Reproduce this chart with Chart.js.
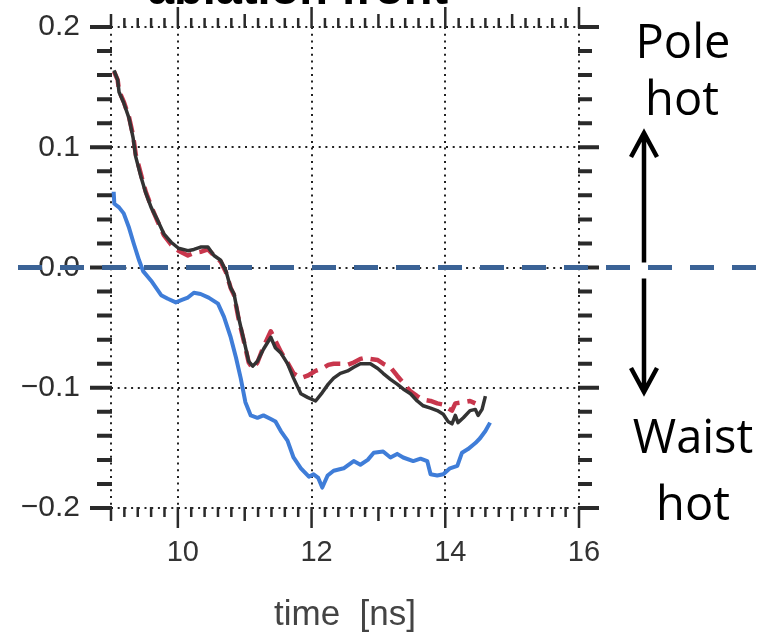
<!DOCTYPE html>
<html>
<head>
<meta charset="utf-8">
<script src="https://cdn.jsdelivr.net/npm/chart.js@4.4.1/dist/chart.umd.min.js"></script>
<style>
  html, body { margin: 0; padding: 0; background: #fff; }
  #wrap { width: 769px; height: 632px; position: relative; }
</style>
</head>
<body>
<div id="wrap"><canvas id="chart"></canvas></div>
<script>
// Valeurs (temps en ns)
const tBlack = [9.045, 9.10, 9.12, 9.19, 9.27, 9.33, 9.37, 9.45, 9.52, 9.60,
  9.70, 9.79, 9.90, 10.01, 10.15, 10.24, 10.34, 10.45, 10.54, 10.64,
  10.72, 10.79, 10.84, 10.91, 10.99, 11.06, 11.12, 11.19, 11.28, 11.39,
  11.46, 11.54, 11.64, 11.73, 11.84, 11.94, 12.06, 12.16, 12.25, 12.33,
  12.43, 12.54, 12.63, 12.73, 12.81, 12.88, 12.99, 13.07, 13.18, 13.28,
  13.37, 13.48, 13.58, 13.67, 13.78, 13.88, 13.97, 14.04, 14.10, 14.15,
  14.19, 14.27, 14.37, 14.45, 14.49, 14.55, 14.60]
const vBlack = [0.164, 0.156, 0.146, 0.137, 0.124, 0.108, 0.092, 0.075, 0.062, 0.050,
  0.039, 0.028, 0.021, 0.016, 0.014, 0.015, 0.017, 0.017, 0.010, 0.006,
  -0.003, -0.017, -0.022, -0.042, -0.061, -0.078, -0.082, -0.078, -0.068, -0.058,
  -0.067, -0.071, -0.080, -0.092, -0.105, -0.108, -0.111, -0.104, -0.097, -0.092,
  -0.088, -0.086, -0.083, -0.080, -0.080, -0.080, -0.084, -0.088, -0.093, -0.097,
  -0.101, -0.105, -0.111, -0.115, -0.117, -0.119, -0.122, -0.128, -0.130, -0.123,
  -0.129, -0.125, -0.119, -0.118, -0.123, -0.118, -0.107]

const tRed = [9.045, 9.10, 9.12, 9.19, 9.27, 9.33, 9.37, 9.45, 9.52, 9.60,
  9.70, 9.79, 9.90, 10.01, 10.15, 10.24, 10.34, 10.45, 10.54, 10.64,
  10.72, 10.79, 10.84, 10.91, 10.99, 11.06, 11.12, 11.19, 11.28, 11.39,
  11.46, 11.54, 11.64, 11.73, 11.84, 11.94, 12.06, 12.16, 12.25, 12.33,
  12.43, 12.54, 12.63, 12.73, 12.81, 12.88, 12.99, 13.07, 13.18, 13.28,
  13.37, 13.48, 13.58, 13.67, 13.78, 13.88, 13.97, 14.04, 14.10, 14.15,
  14.27, 14.37, 14.45]
const vRed = [0.163, 0.156, 0.147, 0.138, 0.125, 0.110, 0.094, 0.077, 0.063, 0.051,
  0.038, 0.027, 0.019, 0.014, 0.010, 0.012, 0.013, 0.015, 0.010, 0.005,
  -0.004, -0.017, -0.023, -0.043, -0.062, -0.079, -0.084, -0.079, -0.066, -0.053,
  -0.061, -0.070, -0.079, -0.088, -0.092, -0.090, -0.086, -0.084, -0.081, -0.080,
  -0.080, -0.081, -0.079, -0.076, -0.075, -0.076, -0.077, -0.080, -0.083, -0.090,
  -0.096, -0.103, -0.107, -0.110, -0.111, -0.113, -0.114, -0.117, -0.119, -0.113,
  -0.112, -0.111, -0.113]

const tBlue = [9.04, 9.05, 9.12, 9.19, 9.27, 9.34, 9.42, 9.48, 9.60, 9.75,
  9.85, 9.97, 10.06, 10.15, 10.24, 10.34, 10.46, 10.60, 10.69, 10.79,
  10.87, 10.94, 11.01, 11.09, 11.19, 11.28, 11.39, 11.46, 11.54, 11.64,
  11.73, 11.84, 11.96, 12.03, 12.10, 12.16, 12.24, 12.33, 12.48, 12.63,
  12.73, 12.84, 12.93, 13.07, 13.18, 13.28, 13.37, 13.52, 13.63, 13.73,
  13.78, 13.88, 13.97, 14.07, 14.18, 14.25, 14.34, 14.45, 14.52, 14.60, 14.67]
const vBlue = [0.063, 0.053, 0.050, 0.045, 0.033, 0.020, 0.006, -0.003, -0.011, -0.023,
  -0.026, -0.029, -0.027, -0.025, -0.021, -0.022, -0.025, -0.030, -0.041, -0.058,
  -0.075, -0.092, -0.112, -0.123, -0.125, -0.123, -0.126, -0.128, -0.136, -0.144,
  -0.158, -0.167, -0.174, -0.172, -0.175, -0.183, -0.173, -0.169, -0.167, -0.161,
  -0.164, -0.160, -0.154, -0.153, -0.158, -0.155, -0.158, -0.161, -0.159, -0.161,
  -0.172, -0.173, -0.172, -0.167, -0.165, -0.154, -0.151, -0.146, -0.142, -0.136, -0.129]

const xTickValues = [9, 10, 12, 14, 16]
const xTickLabels = ['', '10', '12', '14', '16']
const yTickValues = [-0.2, -0.1, 0, 0.1, 0.2]
const yTickLabels = ['\u22120.2', '\u22120.1', '0.0', '0.1', '0.2']

const FONT = '"Liberation Sans", Arial, sans-serif'
const NOTE_FONT = '"Open Sans", sans-serif'

function toPoints(ts, vs) {
  return ts.map((t, i) => ({ x: t, y: vs[i] }))
}

// Petites graduations sur les quatre côtés du cadre
const frameTicks = {
  id: 'frameTicks',
  beforeDatasetsDraw(chart) {
    const { ctx, chartArea: a, scales: { x, y } } = chart
    ctx.save()
    ctx.strokeStyle = '#2a2a2a'
    ctx.lineWidth = 4
    for (let i = -10; i <= 10; i++) {
      const py = y.getPixelForValue(i / 50)
      const major = i % 5 === 0
      ctx.beginPath()
      ctx.moveTo(a.left - (major ? 21 : 14), py)
      ctx.lineTo(a.left + 1, py)
      ctx.moveTo(a.right - 1, py)
      ctx.lineTo(a.right + (major ? 20 : 13), py)
      ctx.stroke()
    }
    ctx.lineWidth = 2.5
    for (let i = 45; i <= 80; i++) {
      const px = x.getPixelForValue(i / 5)
      let len = 9
      if (i % 10 === 0) len = 20
      else if (i % 5 === 0) len = 13
      ctx.beginPath()
      ctx.moveTo(px, a.bottom - 1)
      ctx.lineTo(px, a.bottom + len)
      ctx.moveTo(px, a.top + 1)
      ctx.lineTo(px, a.top - len)
      ctx.stroke()
    }
    ctx.restore()
  }
}

// Ligne de référence à zéro, flèches et textes de la droite
const notes = {
  id: 'notes',
  afterDraw(chart) {
    const { ctx, scales: { y } } = chart
    ctx.save()
    const y0 = y.getPixelForValue(0)
    ctx.strokeStyle = '#3B6396'
    ctx.lineWidth = 5
    ctx.setLineDash([24, 18])
    ctx.beginPath()
    ctx.moveTo(18, y0)
    ctx.lineTo(756, y0)
    ctx.stroke()
    ctx.setLineDash([])

    ctx.strokeStyle = '#000'
    ctx.lineWidth = 4.5
    ctx.beginPath()
    ctx.moveTo(644, y0 - 5)
    ctx.lineTo(644, 134)
    ctx.moveTo(631, 157)
    ctx.lineTo(644, 133)
    ctx.lineTo(657, 157)
    ctx.moveTo(644, y0 + 11)
    ctx.lineTo(644, 391)
    ctx.moveTo(631, 368)
    ctx.lineTo(644, 392)
    ctx.lineTo(657, 368)
    ctx.stroke()

    ctx.fillStyle = '#000'
    ctx.textAlign = 'center'
    ctx.textBaseline = 'alphabetic'
    ctx.font = '47px ' + NOTE_FONT
    ctx.fillText('Pole', 683, 58)
    ctx.fillText('hot', 682, 115)
    ctx.fillText('Waist', 693, 453)
    ctx.fillText('hot', 693, 520)

    ctx.font = 'bold 47px ' + FONT
    ctx.fillText('ablation front', 298, 4)
    ctx.restore()
  }
}

new Chart(document.getElementById('chart'), {
  type: 'line',
  data: {
    datasets: [
      {
        label: 'black',
        data: toPoints(tBlack, vBlack),
        borderColor: '#333333',
        borderWidth: 3.5,
        order: 0
      },
      {
        label: 'red',
        data: toPoints(tRed, vRed),
        borderColor: '#C8364C',
        borderWidth: 4.5,
        borderDash: [16, 8],
        order: 1
      },
      {
        label: 'blue',
        data: toPoints(tBlue, vBlue),
        borderColor: '#3F7DD8',
        borderWidth: 4,
        order: 2
      }
    ]
  },
  options: {
    responsive: true,
    maintainAspectRatio: false,
    animation: false,
    layout: { padding: { top: 27, right: 190, left: 0, bottom: 0 } },
    elements: {
      point: { radius: 0 },
      line: { tension: 0, borderJoinStyle: 'round', fill: false }
    },
    plugins: {
      legend: { display: false },
      tooltip: { enabled: false }
    },
    scales: {
      x: {
        type: 'linear',
        min: 9,
        max: 16,
        afterBuildTicks: (s) => { s.ticks = xTickValues.map((v) => ({ value: v })) },
        afterFit: (s) => { s.height = 124 },
        grid: { color: '#222', lineWidth: 2, drawTicks: false },
        border: { display: false, dash: [2, 4.7] },
        ticks: {
          padding: 28,
          labelOffset: 5,
          maxRotation: 0,
          autoSkip: false,
          color: '#333',
          font: { family: FONT, size: 29 },
          callback: (val, idx) => xTickLabels[idx]
        },
        title: {
          display: true,
          text: 'time  [ns]',
          color: '#444',
          font: { family: FONT, size: 35 },
          padding: { top: 0, bottom: -4 }
        }
      },
      y: {
        min: -0.2,
        max: 0.2,
        afterBuildTicks: (s) => { s.ticks = yTickValues.map((v) => ({ value: v })) },
        afterFit: (s) => {
          // le cadre est fixé : pas de marge ajoutée pour les étiquettes
          s.width = 111
          s.paddingTop = 0
          s.paddingBottom = 0
        },
        grid: { color: '#222', lineWidth: 2, drawTicks: false },
        border: { display: false, dash: [2, 4.7] },
        ticks: {
          padding: 31,
          autoSkip: false,
          color: '#2e2e2e',
          font: { family: FONT, size: 30 },
          callback: (val, idx) => yTickLabels[idx]
        }
      }
    }
  },
  plugins: [frameTicks, notes]
})
</script>
</body>
</html>
